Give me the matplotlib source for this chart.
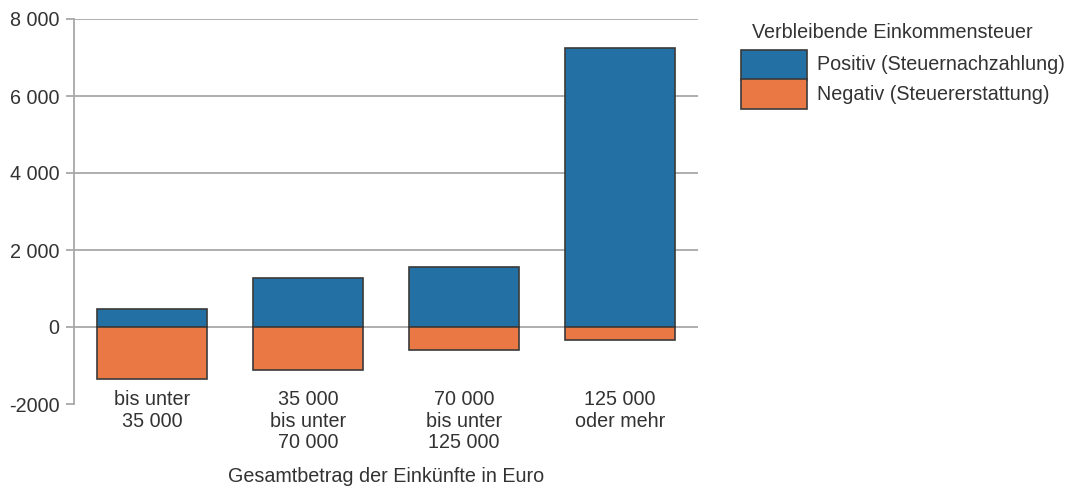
import matplotlib
matplotlib.use('Agg')
import matplotlib.pyplot as plt
from matplotlib.patches import Rectangle

plt.rcParams['font.family'] = ['Liberation Sans', 'DejaVu Sans']

categories = ['bis unter\n35 000', '35 000\nbis unter\n70 000',
              '70 000\nbis unter\n125 000', '125 000\noder mehr']
positiv = [470, 1270, 1560, 7250]
negativ = [-1350, -1120, -600, -340]
yticks = [-2000, 0, 2000, 4000, 6000, 8000]
ytick_labels = ['-2000', '0', '2 000', '4 000', '6 000', '8 000']
series_labels = ['Positiv (Steuernachzahlung)', 'Negativ (Steuererstattung)']

blue = '#2370a5'
orange = '#e97845'
grey = '#a8a8a8'
edge = '#3a3a3a'
text_c = '#333333'
fs = 14.2

fig = plt.figure(figsize=(10.83, 4.88), dpi=100)
ax = fig.add_axes([74 / 1083, 1 - 404 / 488, 624 / 1083, 385 / 488])

x = range(len(categories))
ax.bar(x, positiv, width=0.705, color=blue, edgecolor=edge, linewidth=1.2, zorder=3)
ax.bar(x, negativ, width=0.705, color=orange, edgecolor=edge, linewidth=1.2, zorder=3)

ax.set_xlim(-0.5, 3.5)
ax.set_ylim(-2000, 8000)
ax.set_yticks(yticks)
ax.set_yticklabels(ytick_labels)
for v in yticks[1:]:
    ax.axhline(v, color=grey, linewidth=1.3, zorder=1)

ax.set_xticks(list(x))
ax.set_xticklabels(categories, linespacing=1.16)
ax.tick_params(axis='x', length=0, pad=-10, labelsize=fs, labelcolor=text_c)
ax.tick_params(axis='y', length=6, width=1.3, color=grey, pad=4.5,
               labelsize=fs, labelcolor=text_c)

for s in ['top', 'right', 'bottom']:
    ax.spines[s].set_visible(False)
ax.spines['left'].set_color(grey)
ax.spines['left'].set_linewidth(1.3)

ax.set_xlabel('Gesamtbetrag der Einkünfte in Euro', fontsize=fs, color=text_c)
ax.xaxis.set_label_coords(0.5, -0.163)

# legend drawn by hand so the two boxes touch like in the original
W, H = 1083, 488
fig.text(752 / W, 1 - 32 / H, 'Verbleibende Einkommensteuer',
         fontsize=fs, color=text_c, ha='left', va='center')
for i, (lab, col) in enumerate(zip(series_labels, [blue, orange])):
    top = 50 + i * 29.5
    fig.patches.append(Rectangle((741 / W, 1 - (top + 29.5) / H), 66 / W, 29.5 / H,
                                 transform=fig.transFigure, facecolor=col,
                                 edgecolor=edge, linewidth=1.2))
    fig.text(817 / W, 1 - (top + 14.5) / H, lab, fontsize=fs, color=text_c,
             ha='left', va='center')

plt.savefig('out.png', dpi=100)
